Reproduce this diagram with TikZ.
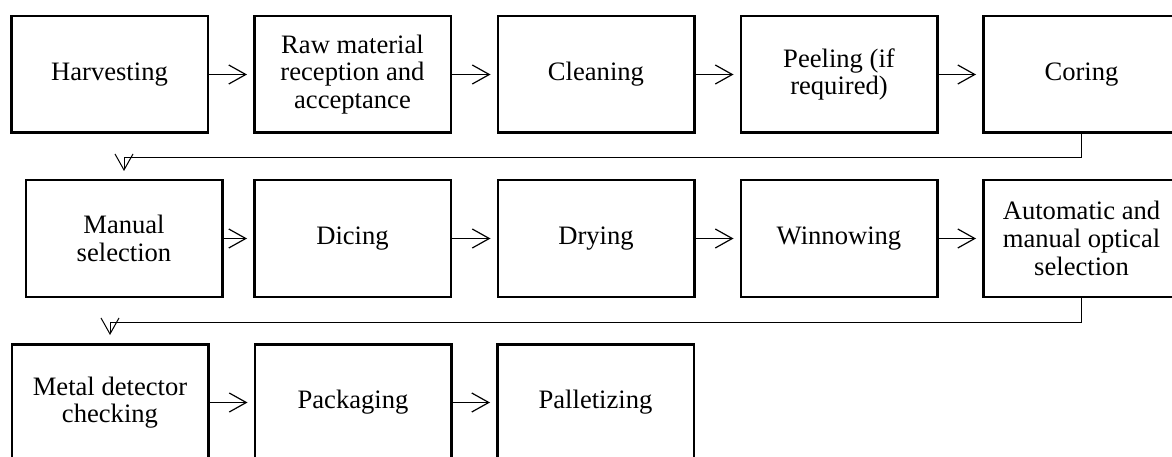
\documentclass[tikz,border=0pt]{standalone}
\usepackage{fontspec}
\setmainfont{Liberation Serif}
\usetikzlibrary{arrows.meta}

\begin{document}
\begin{tikzpicture}[x=1pt,y=-1pt,
  stepbox/.style={draw,line width=2.5pt,minimum width=196.5pt,minimum height=116.5pt,
    align=center,inner sep=2pt,font=\fontsize{26.6}{27.6}\selectfont},
  flow/.style={-{Straight Barb[length=17pt,width=19pt]},line width=1.2pt,shorten >=6pt},
  turn/.style={-{Straight Barb[length=16pt,width=18pt]},line width=1pt,shorten >=8pt}]
  \useasboundingbox (0,0) rectangle (1172,457);
  \clip (0,0) rectangle (1172,457);
  \node[stepbox] (harv) at (109.5,74.5) {Harvesting};
  \node[stepbox] (raw) at (352.5,74.5) {Raw material\\reception and\\acceptance};
  \node[stepbox] (clean) at (596,74.5) {Cleaning};
  \node[stepbox] (peel) at (839,74.5) {Peeling (if\\required)};
  \node[stepbox] (core) at (1081.5,74.5) {Coring};
  \node[stepbox] (manual) at (124,238.5) {Manual\\selection};
  \node[stepbox] (dice) at (352.5,238.5) {Dicing};
  \node[stepbox] (dry) at (596,238.5) {Drying};
  \node[stepbox] (winnow) at (839,238.5) {Winnowing};
  \node[stepbox] (optic) at (1081.5,238.5) {Automatic and\\manual optical\\selection};
  \node[stepbox] (metal) at (110,402.5) {Metal detector\\checking};
  \node[stepbox] (pack) at (353,402.5) {Packaging};
  \node[stepbox] (pallet) at (595.5,402.5) {Palletizing};
  \draw[flow] (harv) -- (raw);
  \draw[flow] (raw) -- (clean);
  \draw[flow] (clean) -- (peel);
  \draw[flow] (peel) -- (core);
  \draw[turn] (core.south) -- ++(0,24) -| (manual.north);
  \draw[flow] (manual) -- (dice);
  \draw[flow] (dice) -- (dry);
  \draw[flow] (dry) -- (winnow);
  \draw[flow] (winnow) -- (optic);
  \draw[turn] (optic.south) -- ++(0,24) -| (metal.north);
  \draw[flow] (metal) -- (pack);
  \draw[flow] (pack) -- (pallet);
\end{tikzpicture}
\end{document}
